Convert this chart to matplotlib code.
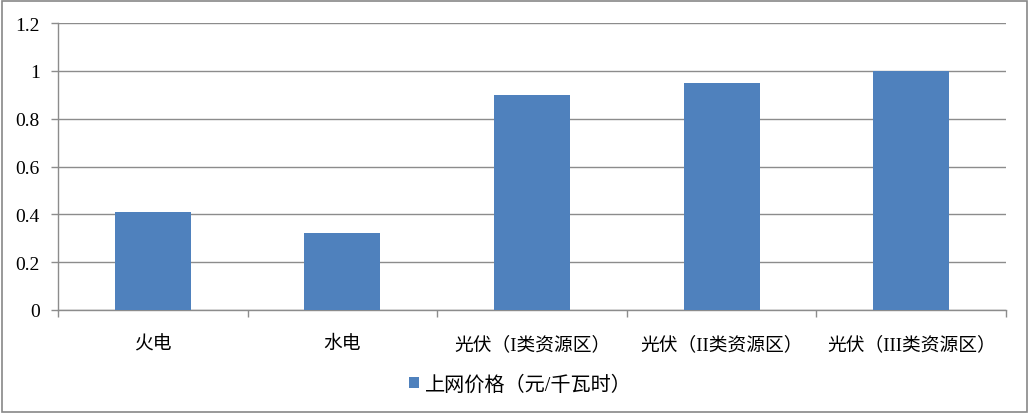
import matplotlib
matplotlib.use("Agg")
import matplotlib.pyplot as plt
from matplotlib.patches import Rectangle
from numpy import arange

plt.rcParams['font.family'] = ['Liberation Serif', 'Noto Sans CJK SC', 'DejaVu Sans']

categories = ['火电', '水电', '光伏（I类资源区）', '光伏（II类资源区）', '光伏（III类资源区）']
prices = [0.41, 0.32, 0.90, 0.95, 1.00]
series_name = '上网价格（元/千瓦时）'
y_ticks = [0, 0.2, 0.4, 0.6, 0.8, 1, 1.2]
y_labels = ['0', '0.2', '0.4', '0.6', '0.8', '1', '1.2']

bar_color = '#4F81BD'
grid_color = '#8C8C8C'

fig = plt.figure(figsize=(10.3, 4.14), dpi=100)
ax = fig.add_axes([0.0563, 0.2488, 0.9205, 0.6932])

x = arange(len(categories))
ax.bar(x, prices, width=0.4, color=bar_color, label=series_name, zorder=3)

ax.set_xlim(-0.5, len(categories) - 0.5)
ax.set_ylim(0, 1.2)
ax.set_yticks(y_ticks)
ax.set_yticklabels(y_labels, fontsize=14)
ax.yaxis.grid(True, color=grid_color, linewidth=1.0, zorder=0)

ax.set_xticks(x)
ax.set_xticklabels(categories, fontsize=13.5)
ax.tick_params(axis='x', which='major', length=0, pad=18)
ax.set_xticks(arange(len(categories) + 1) - 0.5, minor=True)
ax.tick_params(axis='x', which='minor', length=5, color=grid_color, width=1.0)
ax.tick_params(axis='y', length=5, color=grid_color, width=1.0, pad=8)

for side in ['top', 'right']:
    ax.spines[side].set_visible(False)
for side in ['left', 'bottom']:
    ax.spines[side].set_color(grid_color)
    ax.spines[side].set_linewidth(1.0)

leg = fig.legend(loc='center', bbox_to_anchor=(0.505, 0.068), frameon=False,
                 fontsize=14.5, handlelength=0.5, handleheight=0.5, handletextpad=0.3)

# outer chart border
fig.patches.append(Rectangle((0.002, 0.003), 0.995, 0.993, transform=fig.transFigure,
                             fill=False, edgecolor='#878787', linewidth=1.2))

fig.savefig('out.png', dpi=100)
